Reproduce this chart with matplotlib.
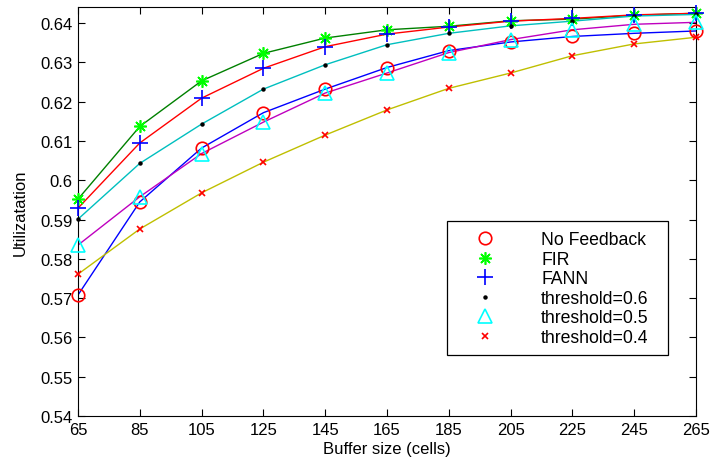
import matplotlib
matplotlib.use("Agg")
import matplotlib.pyplot as plt
from matplotlib.patches import Rectangle

plt.rcParams['font.family'] = ['Liberation Sans', 'DejaVu Sans']

buffer_sizes = [65, 85, 105, 125, 145, 165, 185, 205, 225, 245, 265]

no_feedback = [0.5708, 0.5945, 0.6082, 0.6172, 0.6232, 0.6287, 0.6330, 0.6352, 0.6366, 0.6374, 0.6380]
fir =         [0.5952, 0.6137, 0.6253, 0.6323, 0.6362, 0.6383, 0.6392, 0.6406, 0.6410, 0.6420, 0.6425]
fann =        [0.5929, 0.6095, 0.6209, 0.6285, 0.6340, 0.6372, 0.6390, 0.6405, 0.6412, 0.6421, 0.6425]
thr_06 =      [0.5901, 0.6043, 0.6143, 0.6232, 0.6294, 0.6345, 0.6374, 0.6393, 0.6405, 0.6418, 0.6422]
thr_05 =      [0.5835, 0.5958, 0.6068, 0.6148, 0.6222, 0.6273, 0.6325, 0.6358, 0.6383, 0.6397, 0.6402]
thr_04 =      [0.5761, 0.5876, 0.5968, 0.6046, 0.6115, 0.6179, 0.6234, 0.6273, 0.6317, 0.6347, 0.6364]

labels = ['No Feedback', 'FIR', 'FANN', 'threshold=0.6', 'threshold=0.5', 'threshold=0.4']
x_ticks = [65, 85, 105, 125, 145, 165, 185, 205, 225, 245, 265]
y_ticks = [0.54, 0.55, 0.56, 0.57, 0.58, 0.59, 0.60, 0.61, 0.62, 0.63, 0.64]
y_tick_labels = ['0.54', '0.55', '0.56', '0.57', '0.58', '0.59', '0.6', '0.61', '0.62', '0.63', '0.64']

series = [no_feedback, fir, fann, thr_06, thr_05, thr_04]
line_colors = ['#0000ff', '#008000', '#ff0000', '#00bfbf', '#bf00bf', '#bfbf00']
marker_colors = ['#ff0000', '#00ff00', '#0000ff', '#000000', '#00ffff', '#ff0000']
markers = ['o', (8, 2, 0), '+', '.', '^', 'x']
msizes = [9, 9, 11, 4, 10, 5]

W, H = 713, 464
fig = plt.figure(figsize=(W / 100, H / 100), dpi=100)
ax = fig.add_axes([78 / W, 1 - 417 / H, 618 / W, 409 / H])

for ys, lc in zip(series, line_colors):
    ax.plot(buffer_sizes, ys, '-', color=lc, lw=1.0, zorder=2)

handles = []
for ys, mc, mk, ms, lab in zip(series, marker_colors, markers, msizes, labels):
    filled = mk == '.'
    h, = ax.plot(buffer_sizes, ys, linestyle='none', marker=mk, markersize=ms,
                 markeredgecolor=mc, markerfacecolor=mc if filled else 'none',
                 markeredgewidth=1.2, label=lab, zorder=3, clip_on=False)
    handles.append(h)

ax.set_xlim(65, 265)
ax.set_ylim(0.54, 0.6441)
ax.set_xticks(x_ticks)
ax.set_xticklabels([str(v) for v in x_ticks])
ax.set_yticks(y_ticks)
ax.set_yticklabels(y_tick_labels)
ax.tick_params(direction='in', top=True, right=True, length=5, width=0.8,
               labelsize=12, pad=4)
for s in ax.spines.values():
    s.set_linewidth(0.8)

ax.set_xlabel('Buffer size (cells)', fontsize=12, labelpad=3)
ax.set_ylabel('Utilizatation', fontsize=12, labelpad=9)

# legend frame box
frame = Rectangle((447 / W, 1 - 356 / H), 221 / W, 134 / H, transform=fig.transFigure,
                  facecolor='white', edgecolor='black', linewidth=0.9, zorder=4)
fig.patches.append(frame)

leg = fig.legend(handles=handles, loc='upper left',
                 bbox_to_anchor=(467.4 / W, 1 - 232.5 / H),
                 bbox_transform=fig.transFigure,
                 frameon=False, fontsize=12.7, handlelength=2.0,
                 handletextpad=2.18, borderpad=0, labelspacing=0.14,
                 borderaxespad=0)
leg.set_zorder(5)

fig.savefig('out.png', dpi=100)
